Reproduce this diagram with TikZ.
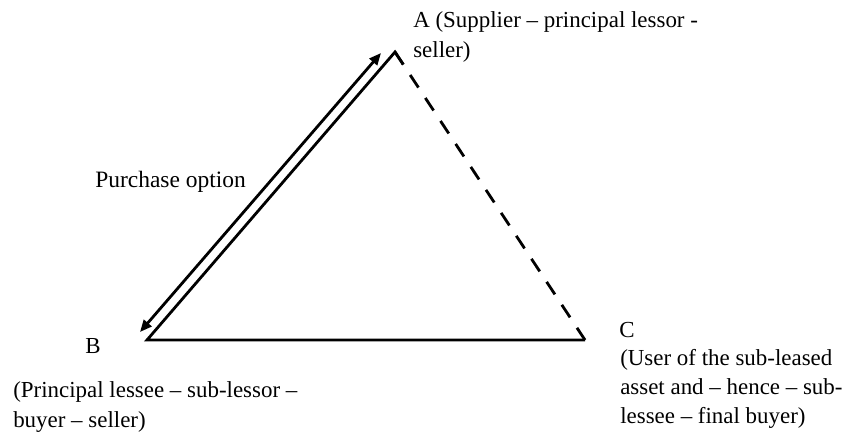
\documentclass[tikz,border=0pt]{standalone}
\usepackage{fontspec}
\setmainfont{Liberation Serif}
\usetikzlibrary{arrows.meta,calc}
\tikzset{
  edgeline/.style={line width=2.1pt, line join=miter, line cap=butt},
  dashline/.style={line width=2.1pt, line cap=butt, dash pattern=on 11.25pt off 9.4pt},
  arrowline/.style={line width=2.1pt, {Triangle[length=9pt,width=7.5pt]}-{Triangle[length=9pt,width=7.5pt]}, shorten <=0pt, shorten >=0pt},
  lbl/.style={inner sep=0pt, anchor=base west, align=left, font=\fontsize{17.2pt}{22.2pt}\selectfont},
  optlbl/.style={inner sep=0pt, anchor=base west, font=\fontsize{17.6pt}{21pt}\selectfont}
}
\begin{document}
\begin{tikzpicture}[x=0.75pt,y=-0.75pt]
\useasboundingbox (0,0) rectangle (848,443);
% vertices
\coordinate (A) at (395,52);
\coordinate (B) at (147,340);
\coordinate (C) at (585,340);
% ends of the purchase-option arrow
\coordinate (PA) at (381,53);
\coordinate (PB) at (140,332);
% triangle
\draw[edgeline] (C) -- (B) -- (A) -- ($(A)!11.25pt!(C)$);
\draw[dashline] (A) -- (C);
% purchase option arrow
\draw[arrowline] (PB) -- (PA);
% labels (a multi-line label is placed by the baseline of its last line)
\node[lbl] (la) at (413,57) {A (Supplier -- principal lessor -\\seller)};
\node[lbl] (lb) at (85,353) {B};
\node[lbl] (lbtxt) at (13,427) {(Principal lessee -- sub-lessor --\\buyer -- seller)};
\node[lbl] (lc) at (619,337) {C};
\node[lbl,font=\fontsize{17.2pt}{21.4pt}\selectfont] (lctxt) at (620,423) {(User of the sub-leased\\asset and -- hence -- sub-\\lessee -- final buyer)};
\node[optlbl] (po) at (95,187) {Purchase option};
\end{tikzpicture}
\end{document}
